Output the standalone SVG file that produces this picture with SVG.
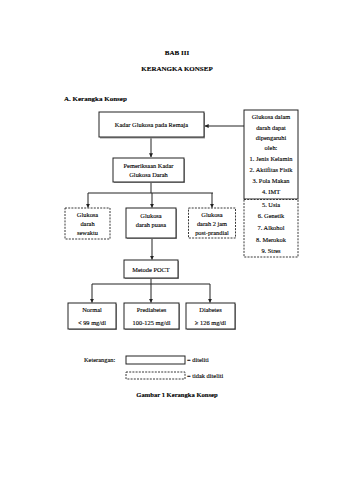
<svg xmlns="http://www.w3.org/2000/svg" width="340" height="480" viewBox="0 0 340 480">
<style>
text{font-family:"Liberation Serif","Times New Roman",serif;fill:#000;font-size:6.4px;stroke:#000;stroke-width:0.12}
.t{font-size:7px;font-weight:bold}
.m{text-anchor:middle}
.box{fill:#fff;stroke:#222;stroke-width:1}
.dash{fill:#fff;stroke:#222;stroke-width:0.9;stroke-dasharray:2,1.2}
.sh{fill:#999}
.ln{fill:none;stroke:#222;stroke-width:1}
</style>
<defs>
<marker id="ah" viewBox="0 0 6 6" refX="5.5" refY="3" markerWidth="4" markerHeight="4" orient="auto" markerUnits="userSpaceOnUse">
<path d="M0,0 L6,3 L0,6 Z" fill="#222"/>
</marker>
</defs>
<rect width="340" height="480" fill="#fff"/>
<g id="headings">
<text class="t m" x="177" y="55">BAB III</text>
<text class="t m" x="177" y="71">KERANGKA KONSEP</text>
<text class="t" x="64" y="101">A.  Kerangka Konsep</text>
</g>
<g id="connectors">
<path class="ln" d="M151,137.5 V157" marker-end="url(#ah)"/>
<path class="ln" d="M244,126 H205" marker-end="url(#ah)"/>
<path class="ln" d="M151,182 V193 M88,193 H213"/>
<path class="ln" d="M88,193 V207.5" marker-end="url(#ah)"/>
<path class="ln" d="M152,193 V207.5" marker-end="url(#ah)"/>
<path class="ln" d="M212,193 V207.5" marker-end="url(#ah)"/>
<path class="ln" d="M152,238 V259.5" marker-end="url(#ah)"/>
<path class="ln" d="M151,278 V284 M92,284 H210"/>
<path class="ln" d="M92,284 V302.5" marker-end="url(#ah)"/>
<path class="ln" d="M151,284 V302.5" marker-end="url(#ah)"/>
<path class="ln" d="M210,284 V302.5" marker-end="url(#ah)"/>
</g>
<g id="n-kadar">
<rect class="sh" x="100" y="113" width="105" height="25.5"/>
<rect class="box" x="99" y="112" width="105" height="25"/>
<text class="m" x="151.5" y="127">Kadar Glukosa pada Remaja</text>
</g>
<g id="n-pemeriksaan">
<rect class="sh" x="114" y="159" width="71" height="24"/>
<rect class="box" x="113" y="158" width="71" height="24"/>
<text class="m" x="148.5" y="168">Pemeriksaan Kadar</text>
<text class="m" x="148.5" y="177">Glukosa Darah</text>
</g>
<g id="n-faktor">
<rect class="box" x="244" y="110" width="54" height="89"/>
<text class="m" x="271" y="119">Glukosa dalam</text>
<text class="m" x="271" y="130">darah dapat</text>
<text class="m" x="271" y="140">dipengaruhi</text>
<text class="m" x="271" y="150">oleh:</text>
<text class="m" x="271" y="161">1. Jenis Kelamin</text>
<text class="m" x="271" y="172">2. Aktifitas Fisik</text>
<text class="m" x="271" y="183">3. Pola Makan</text>
<text class="m" x="271" y="194">4. IMT</text>
</g>
<g id="n-faktor-lain">
<rect class="dash" x="244" y="199.5" width="54" height="57.5"/>
<text class="m" x="271" y="207">5. Usia</text>
<text class="m" x="271" y="218">6. Genetik</text>
<text class="m" x="271" y="230">7. Alkohol</text>
<text class="m" x="271" y="242">8. Merokok</text>
<text class="m" x="271" y="253">9. Stres</text>
</g>
<g id="n-sewaktu">
<rect class="dash" x="65" y="208" width="45" height="31"/>
<text class="m" x="87.5" y="217">Glukosa</text>
<text class="m" x="87.5" y="226">darah</text>
<text class="m" x="87.5" y="235">sewaktu</text>
</g>
<g id="n-puasa">
<rect class="sh" x="127" y="209" width="50" height="30"/>
<rect class="box" x="126" y="208" width="50" height="30"/>
<text class="m" x="151" y="218">Glukosa</text>
<text class="m" x="151" y="227">darah puasa</text>
</g>
<g id="n-2jam">
<rect class="dash" x="188.5" y="208" width="47" height="30"/>
<text class="m" x="212" y="217">Glukosa</text>
<text class="m" x="212" y="226">darah 2 jam</text>
<text class="m" x="212" y="235">post-prandial</text>
</g>
<g id="n-poct">
<rect class="sh" x="125" y="261" width="54" height="18"/>
<rect class="box" x="124" y="260" width="54" height="18"/>
<text class="m" x="151" y="271.5">Metode POCT</text>
</g>
<g id="n-normal">
<rect class="sh" x="69" y="304" width="48" height="26"/>
<rect class="box" x="68" y="303" width="48" height="26"/>
<text class="m" x="92" y="311.5">Normal</text>
<text class="m" x="92" y="324.5">&lt; 99 mg/dl</text>
</g>
<g id="n-prediabetes">
<rect class="sh" x="125" y="304" width="55" height="26"/>
<rect class="box" x="124" y="303" width="55" height="26"/>
<text class="m" x="151.5" y="311.5">Prediabetes</text>
<text class="m" x="151.5" y="324.5">100-125 mg/dl</text>
</g>
<g id="n-diabetes">
<rect class="sh" x="187" y="304" width="49" height="26"/>
<rect class="box" x="186" y="303" width="49" height="26"/>
<text class="m" x="210.5" y="311.5">Diabetes</text>
<text class="m" x="210.5" y="324.5">≥ 126 mg/dl</text>
</g>
<g id="legend">
<text x="84" y="362">Keterangan:</text>
<rect class="box" x="126" y="356" width="59" height="8"/>
<text x="187" y="362">= diteliti</text>
<rect class="dash" x="126" y="372" width="59" height="7"/>
<text x="187" y="378">= tidak diteliti</text>
<text class="t m" x="177" y="397" style="font-size:6.6px">Gambar 1 Kerangka Konsep</text>
</g>
</svg>
